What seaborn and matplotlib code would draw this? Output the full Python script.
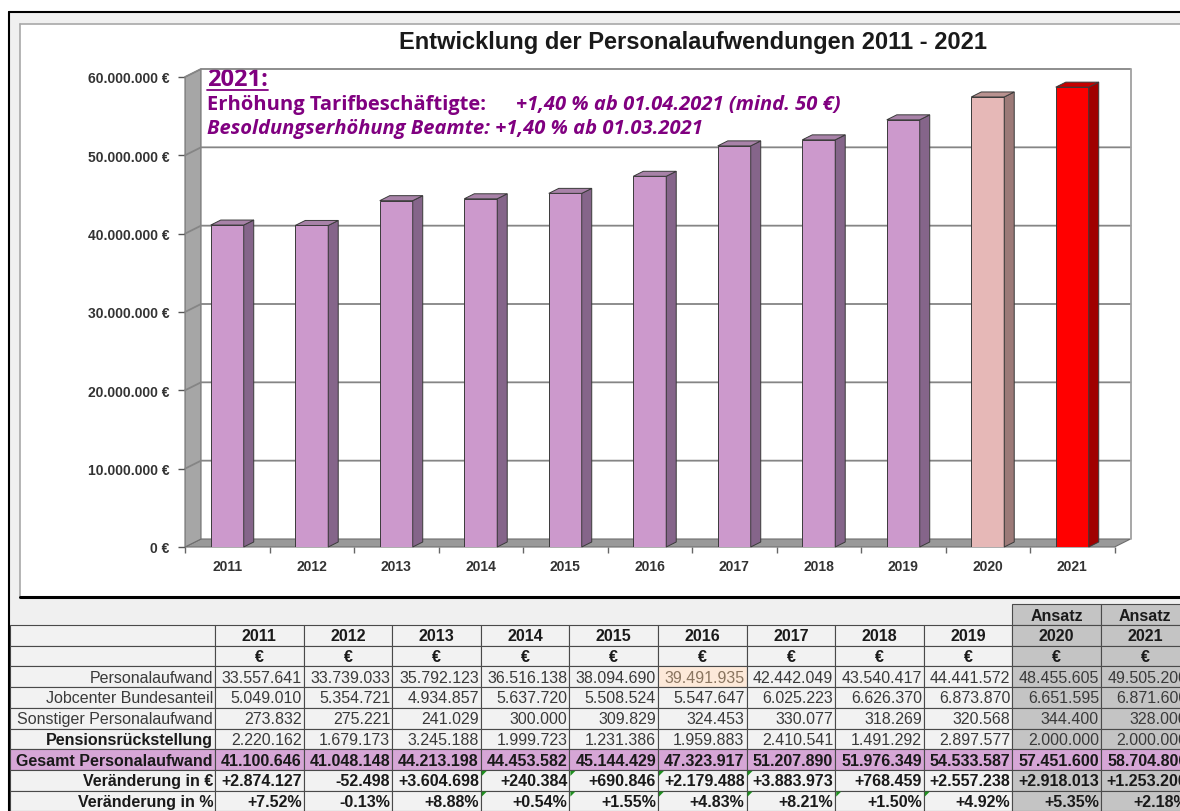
import matplotlib
matplotlib.use('Agg')
import matplotlib.pyplot as plt
import seaborn as sns
import pandas as pd
from matplotlib.patches import Polygon, Rectangle
from matplotlib.ticker import FuncFormatter

# Daten
years = ['2011', '2012', '2013', '2014', '2015', '2016', '2017', '2018', '2019', '2020', '2021']
personal = [33557641, 33739033, 35792123, 36516138, 38094690, 39491935, 42442049, 43540417, 44441572, 48455605, 49505200]
jobcenter = [5049010, 5354721, 4934857, 5637720, 5508524, 5547647, 6025223, 6626370, 6873870, 6651595, 6871600]
sonstiger = [273832, 275221, 241029, 300000, 309829, 324453, 330077, 318269, 320568, 344400, 328000]
pension = [2220162, 1679173, 3245188, 1999723, 1231386, 1959883, 2410541, 1491292, 2897577, 2000000, 2000000]
gesamt = [41100646, 41048148, 44213198, 44453582, 45144429, 47323917, 51207890, 51976349, 54533587, 57451600, 58704800]
change_eur = [2874127, -52498, 3604698, 240384, 690846, 2179488, 3883973, 768459, 2557238, 2918013, 1253200]
change_pct = [7.52, -0.13, 8.88, 0.54, 1.55, 4.83, 8.21, 1.50, 4.92, 5.35, 2.18]
ansatz_years = ['2020', '2021']
flag_eur = ['2014', '2015', '2016', '2017']
flag_pct = ['2014', '2015', '2016', '2017', '2018', '2019']

title = 'Entwicklung der Personalaufwendungen 2011 - 2021'
note_head = '2021:'
note_l1a = 'Erhöhung Tarifbeschäftigte:'
note_l1b = '+1,40 % ab 01.04.2021 (mind. 50 €)'
note_l2 = 'Besoldungserhöhung Beamte: +1,40 % ab 01.03.2021'

# Farben
front_colors = ['#CC99CC'] * 9 + ['#E6B8B7', '#FF0000']
side_colors = ['#85658A'] * 9 + ['#9C7A78', '#A00000']
top_colors = ['#A882A8'] * 9 + ['#B99290', '#C40000']


def fmt_num(v, sign=False):
    s = f"{v:+,}" if sign else f"{v:,}"
    return s.replace(',', '.')


sns.set_theme(style='white')
plt.rcParams['font.family'] = ['Liberation Sans', 'DejaVu Sans']

W, H = 1180, 812
fig = plt.figure(figsize=(W / 100, H / 100), dpi=100, facecolor='white')

# Hintergrund in Pixelkoordinaten
bg = fig.add_axes([0, 0, 1, 1])
bg.set_xlim(0, W)
bg.set_ylim(H, 0)
bg.axis('off')
bg.set_zorder(0)

bg.add_patch(Rectangle((9, 13), W, H, facecolor='#f0f0f0', edgecolor='none'))
bg.plot([9, W], [13, 13], color='black', lw=1.5)
bg.plot([9, 9], [13, H], color='black', lw=1.5)
bg.add_patch(Rectangle((20, 25), W, 572, facecolor='white', edgecolor='none'))
bg.plot([20, 20], [25, 597], color='#a8a8a8', lw=1.2)
bg.plot([20, W], [25, 25], color='#a8a8a8', lw=1.2)
bg.plot([20, W], [597.5, 597.5], color='black', lw=2.2)

bg.text(693, 43, title, ha='center', va='center', fontsize=17,
        fontweight='bold', color='#1a1a1a')

# Diagramm
x_left, x_right = 185, 1114.5
y_top, y_bot = 78, 548
ax = fig.add_axes([x_left / W, 1 - y_bot / H, (x_right - x_left) / W, (y_bot - y_top) / H])
ax.set_zorder(1)
ax.patch.set_alpha(0)

df = pd.DataFrame({'Jahr': years, 'Gesamt': gesamt})
sns.barplot(data=df, x='Jahr', y='Gesamt', hue='Jahr', palette=front_colors,
            legend=False, width=0.39, saturation=1, edgecolor='#3a3a3a',
            linewidth=0.7, ax=ax, zorder=4)

ymax = 60_000_000
ax.set_xlim(-0.5, 10.5)
ax.set_ylim(0, ymax)
ux = (x_right - x_left) / 11
uy = (y_bot - y_top) / ymax
wdx, wdy = 16 / ux, 8 / uy
bdx, bdy = 10 / ux, 5 / uy

# Wände
floor = Polygon([(-0.5, 0), (10.5, 0), (10.5 + wdx, wdy), (-0.5 + wdx, wdy)],
                closed=True, facecolor='#999999', edgecolor='#6e6e6e', lw=0.8,
                clip_on=False, zorder=1)
wall = Polygon([(-0.5, 0), (-0.5 + wdx, wdy), (-0.5 + wdx, ymax + wdy), (-0.5, ymax)],
               closed=True, facecolor='#a6a6a6', edgecolor='#6e6e6e', lw=0.8,
               clip_on=False, zorder=1)
ax.add_patch(floor)
ax.add_patch(wall)

yticks = [i * 10_000_000 for i in range(7)]
for v in yticks[1:]:
    ax.plot([-0.5, -0.5 + wdx, 10.5 + wdx], [v, v + wdy, v + wdy],
            color='#858585', lw=1.3, clip_on=False, zorder=2)
ax.plot([10.5 + wdx, 10.5 + wdx], [wdy, ymax + wdy], color='#a0a0a0', lw=1.3,
        clip_on=False, zorder=2)

# 3D-Seiten der Balken
for p, sc, tc in zip(ax.patches[:len(years)], side_colors, top_colors):
    x0, w, h = p.get_x(), p.get_width(), p.get_height()
    x1 = x0 + w
    ax.add_patch(Polygon([(x1, 0), (x1 + bdx, bdy), (x1 + bdx, h + bdy), (x1, h)],
                         closed=True, facecolor=sc, edgecolor='#3a3a3a', lw=0.7,
                         clip_on=False, zorder=4))
    ax.add_patch(Polygon([(x0, h), (x0 + bdx, h + bdy), (x1 + bdx, h + bdy), (x1, h)],
                         closed=True, facecolor=tc, edgecolor='#3a3a3a', lw=0.7,
                         clip_on=False, zorder=4))

for s in ax.spines.values():
    s.set_visible(False)
ax.set_yticks(yticks)
ax.yaxis.set_major_formatter(FuncFormatter(lambda v, _: fmt_num(int(v)) + ' €'))
ax.tick_params(axis='y', left=True, length=5, width=1, color='#555555', pad=6,
               labelsize=10, labelcolor='#333333')
ax.set_xticks([i - 0.5 for i in range(12)], minor=True)
ax.tick_params(axis='x', which='minor', bottom=True, length=4, width=1, color='#666666')
ax.tick_params(axis='x', which='major', length=0, pad=9, labelsize=10, labelcolor='#333333')
plt.setp(ax.get_yticklabels(), fontweight='bold')
plt.setp(ax.get_xticklabels(), fontweight='bold')
ax.set_xlabel('')
ax.set_ylabel('')

# Hinweis 2021
note_font = ['Open Sans', 'DejaVu Sans']
purple = '#800080'
t_head = bg.text(207, 80, note_head, fontsize=17, fontweight='bold', color=purple,
                 family=note_font, va='center', ha='left', zorder=5)
bg.text(207, 105, note_l1a, fontsize=14.5, fontweight='bold', color=purple,
        family=note_font, va='center', ha='left', zorder=5)
bg.text(516, 105, note_l1b, fontsize=14.5, fontweight='bold', style='italic',
        color=purple, family=note_font, va='center', ha='left', zorder=5)
bg.text(207, 129, note_l2, fontsize=14.5, fontweight='bold', style='italic',
        color=purple, family=note_font, va='center', ha='left', zorder=5)
renderer = fig.canvas.get_renderer()
bb = t_head.get_window_extent(renderer=renderer)
bg.plot([207, 207 + bb.width], [91, 91], color=purple, lw=1.3)

# Tabelle
col_w = 88.6
lab_l, lab_r = 10, 215
col_left = [lab_r + i * col_w for i in range(len(years))]
row_h = 20.7
t0 = 626
grid = '#4a4a4a'
cell_bg = '#f2f2f2'
ansatz_bg = '#c4c4c4'
gesamt_bg = '#d6a6d6'

for y in ansatz_years:
    i = years.index(y)
    bg.add_patch(Rectangle((col_left[i], t0 - row_h), col_w, row_h, facecolor=ansatz_bg,
                           edgecolor=grid, lw=0.8))
    bg.text(col_left[i] + col_w / 2, t0 - row_h / 2 + 0.5, 'Ansatz', ha='center',
            va='center', fontsize=11.5, fontweight='bold', color='#1a1a1a')

table_rows = [
    ('', years, True, True, 'center'),
    ('', ['€'] * len(years), True, True, 'center'),
    ('Personalaufwand', [fmt_num(v) for v in personal], False, False, 'right'),
    ('Jobcenter Bundesanteil', [fmt_num(v) for v in jobcenter], False, False, 'right'),
    ('Sonstiger Personalaufwand', [fmt_num(v) for v in sonstiger], False, False, 'right'),
    ('Pensionsrückstellung', [fmt_num(v) for v in pension], True, False, 'right'),
    ('Gesamt Personalaufwand', [fmt_num(v) for v in gesamt], True, True, 'right'),
    ('Veränderung in €', [fmt_num(v, sign=True) for v in change_eur], True, True, 'right'),
    ('Veränderung in %', [f"{v:+.2f}%" for v in change_pct], True, True, 'right'),
]

for r, (label, vals, lab_bold, val_bold, align) in enumerate(table_rows):
    top = t0 + r * row_h
    cy = top + row_h / 2 + 0.5
    is_total = label.startswith('Gesamt')
    lab_fill = gesamt_bg if is_total else cell_bg
    bg.add_patch(Rectangle((lab_l, top), lab_r - lab_l, row_h, facecolor=lab_fill,
                           edgecolor=grid, lw=0.8))
    if label:
        bg.text(lab_r - 2, cy, label, ha='right', va='center', fontsize=11.5,
                fontweight='bold' if lab_bold else 'normal',
                color='#1a1a1a' if lab_bold else '#3a3a3a')
    for i, val in enumerate(vals):
        fill = cell_bg
        txt_color = '#1a1a1a' if val_bold else '#3a3a3a'
        if years[i] in ansatz_years:
            fill = ansatz_bg
        if is_total:
            fill = gesamt_bg
        if label == 'Personalaufwand' and years[i] == '2016':
            fill = '#fde9d9'
            txt_color = '#8a7560'
        bg.add_patch(Rectangle((col_left[i], top), col_w, row_h, facecolor=fill,
                               edgecolor=grid, lw=0.8))
        tx = col_left[i] + col_w / 2 if align == 'center' else col_left[i] + col_w - 2
        bg.text(tx, cy, val, ha=align, va='center', fontsize=11.5,
                fontweight='bold' if val_bold else 'normal', color=txt_color)
        flags = flag_eur if label == 'Veränderung in €' else (flag_pct if label == 'Veränderung in %' else [])
        if years[i] in flags:
            x = col_left[i]
            bg.add_patch(Polygon([(x + 1, top + 1), (x + 6, top + 1), (x + 1, top + 6)],
                                 closed=True, facecolor='#1f8f1f', edgecolor='none'))

fig.savefig('out.png', dpi=100, facecolor=fig.get_facecolor())
